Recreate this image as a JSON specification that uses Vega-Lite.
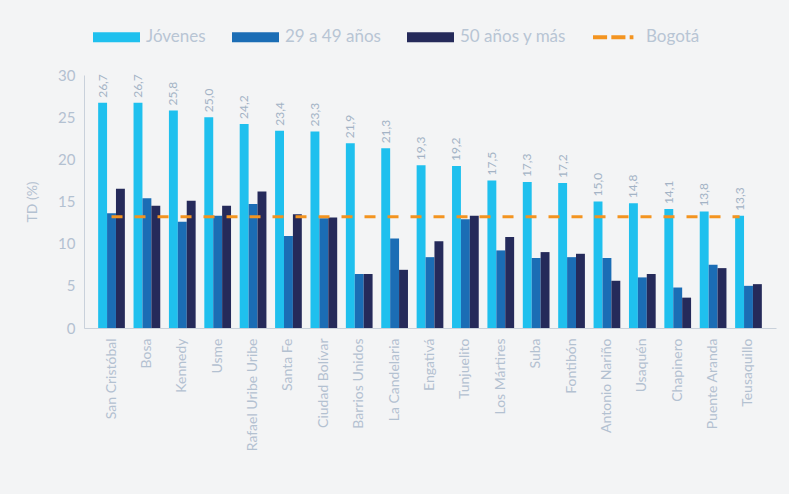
{
  "$schema": "https://vega.github.io/schema/vega-lite/v6.json",
  "width": 692,
  "height": 253,
  "autosize": {"type": "none"},
  "padding": {"left": 84, "top": 75, "right": 13, "bottom": 166},
  "background": "#f3f4f5",
  "config": {
    "view": {"stroke": null},
    "font": "Lato",
    "locale": {"number": {"decimal": ",", "thousands": ".", "grouping": [3], "currency": ["$", ""]}}
  },
  "datasets": {
    "td": [
      {"loc": "San Cristóbal", "serie": "Jóvenes", "td": 26.7},
      {"loc": "San Cristóbal", "serie": "29 a 49 años", "td": 13.6},
      {"loc": "San Cristóbal", "serie": "50 años y más", "td": 16.5},
      {"loc": "Bosa", "serie": "Jóvenes", "td": 26.7},
      {"loc": "Bosa", "serie": "29 a 49 años", "td": 15.4},
      {"loc": "Bosa", "serie": "50 años y más", "td": 14.5},
      {"loc": "Kennedy", "serie": "Jóvenes", "td": 25.8},
      {"loc": "Kennedy", "serie": "29 a 49 años", "td": 12.6},
      {"loc": "Kennedy", "serie": "50 años y más", "td": 15.1},
      {"loc": "Usme", "serie": "Jóvenes", "td": 25.0},
      {"loc": "Usme", "serie": "29 a 49 años", "td": 13.3},
      {"loc": "Usme", "serie": "50 años y más", "td": 14.5},
      {"loc": "Rafael Uribe Uribe", "serie": "Jóvenes", "td": 24.2},
      {"loc": "Rafael Uribe Uribe", "serie": "29 a 49 años", "td": 14.7},
      {"loc": "Rafael Uribe Uribe", "serie": "50 años y más", "td": 16.2},
      {"loc": "Santa Fe", "serie": "Jóvenes", "td": 23.4},
      {"loc": "Santa Fe", "serie": "29 a 49 años", "td": 10.9},
      {"loc": "Santa Fe", "serie": "50 años y más", "td": 13.5},
      {"loc": "Ciudad Bolívar", "serie": "Jóvenes", "td": 23.3},
      {"loc": "Ciudad Bolívar", "serie": "29 a 49 años", "td": 13.0},
      {"loc": "Ciudad Bolívar", "serie": "50 años y más", "td": 13.1},
      {"loc": "Barrios Unidos", "serie": "Jóvenes", "td": 21.9},
      {"loc": "Barrios Unidos", "serie": "29 a 49 años", "td": 6.4},
      {"loc": "Barrios Unidos", "serie": "50 años y más", "td": 6.4},
      {"loc": "La Candelaria", "serie": "Jóvenes", "td": 21.3},
      {"loc": "La Candelaria", "serie": "29 a 49 años", "td": 10.6},
      {"loc": "La Candelaria", "serie": "50 años y más", "td": 6.9},
      {"loc": "Engativá", "serie": "Jóvenes", "td": 19.3},
      {"loc": "Engativá", "serie": "29 a 49 años", "td": 8.4},
      {"loc": "Engativá", "serie": "50 años y más", "td": 10.3},
      {"loc": "Tunjuelito", "serie": "Jóvenes", "td": 19.2},
      {"loc": "Tunjuelito", "serie": "29 a 49 años", "td": 12.9},
      {"loc": "Tunjuelito", "serie": "50 años y más", "td": 13.3},
      {"loc": "Los Mártires", "serie": "Jóvenes", "td": 17.5},
      {"loc": "Los Mártires", "serie": "29 a 49 años", "td": 9.2},
      {"loc": "Los Mártires", "serie": "50 años y más", "td": 10.8},
      {"loc": "Suba", "serie": "Jóvenes", "td": 17.3},
      {"loc": "Suba", "serie": "29 a 49 años", "td": 8.3},
      {"loc": "Suba", "serie": "50 años y más", "td": 9.0},
      {"loc": "Fontibón", "serie": "Jóvenes", "td": 17.2},
      {"loc": "Fontibón", "serie": "29 a 49 años", "td": 8.4},
      {"loc": "Fontibón", "serie": "50 años y más", "td": 8.8},
      {"loc": "Antonio Nariño", "serie": "Jóvenes", "td": 15.0},
      {"loc": "Antonio Nariño", "serie": "29 a 49 años", "td": 8.3},
      {"loc": "Antonio Nariño", "serie": "50 años y más", "td": 5.6},
      {"loc": "Usaquén", "serie": "Jóvenes", "td": 14.8},
      {"loc": "Usaquén", "serie": "29 a 49 años", "td": 6.0},
      {"loc": "Usaquén", "serie": "50 años y más", "td": 6.4},
      {"loc": "Chapinero", "serie": "Jóvenes", "td": 14.1},
      {"loc": "Chapinero", "serie": "29 a 49 años", "td": 4.8},
      {"loc": "Chapinero", "serie": "50 años y más", "td": 3.6},
      {"loc": "Puente Aranda", "serie": "Jóvenes", "td": 13.8},
      {"loc": "Puente Aranda", "serie": "29 a 49 años", "td": 7.5},
      {"loc": "Puente Aranda", "serie": "50 años y más", "td": 7.1},
      {"loc": "Teusaquillo", "serie": "Jóvenes", "td": 13.3},
      {"loc": "Teusaquillo", "serie": "29 a 49 años", "td": 5.0},
      {"loc": "Teusaquillo", "serie": "50 años y más", "td": 5.2}
    ],
    "bogota": [
      {"loc": "San Cristóbal", "serie": "29 a 49 años", "td": 13.2},
      {"loc": "Teusaquillo", "serie": "Jóvenes", "td": 13.2}
    ]
  },
  "layer": [
    {
      "data": {"name": "td"},
      "mark": {"type": "bar"},
      "encoding": {
        "x": {
          "field": "loc", "type": "nominal", "sort": null,
          "scale": {"paddingInner": 0.245, "paddingOuter": 0.4},
          "axis": {
            "title": null, "labelAngle": -90, "ticks": false,
            "domainColor": "#c9d1db", "labelColor": "#b3c1d1",
            "labelFontSize": 14, "labelPadding": 10, "labelFontWeight": "normal"
          }
        },
        "xOffset": {"field": "serie", "type": "nominal", "scale": {"domain": ["Jóvenes", "29 a 49 años", "50 años y más"], "paddingInner": 0}},
        "y": {
          "field": "td", "type": "quantitative",
          "scale": {"domain": [0, 30]},
          "axis": {
            "title": "TD (%)", "grid": false, "ticks": false,
            "values": [0, 5, 10, 15, 20, 25, 30],
            "domainColor": "#c9d1db", "labelColor": "#b3c1d1",
            "labelFontSize": 15, "labelPadding": 9,
            "titleColor": "#b3c1d1", "titleFontSize": 14, "titleFontWeight": "normal", "titlePadding": 18
          }
        },
        "color": {
          "field": "serie", "type": "nominal",
          "scale": {
            "domain": ["Jóvenes", "29 a 49 años", "50 años y más", "Bogotá"],
            "range": ["#1fc0ee", "#1b6db5", "#252a5a", "#f39420"]
          },
          "legend": {
            "title": null, "orient": "none", "direction": "horizontal",
            "legendX": 9, "legendY": -61.5,
            "symbolSize": 2209, "labelOffset": 6, "columnPadding": 26,
            "labelFontSize": 17, "labelColor": "#b8c5d4",
            "symbolStrokeWidth": 0,
            "encode": {
              "symbols": {
                "update": {
                  "shape": {"signal": "datum.value === 'Bogotá' ? 'M-1,-0.09h0.6v0.18h-0.6z M-0.22,-0.09h0.6v0.18h-0.6z M0.56,-0.09h0.16v0.18h-0.16z' : 'M-1,-0.21h2v0.42h-2z'"},
                  "fill": {"signal": "scale('color', datum.value)"},
                  "opacity": {"value": 1}
                }
              }
            }
          }
        }
      }
    },
    {
      "data": {"name": "td"},
      "transform": [{"filter": "datum.serie === 'Jóvenes'"}],
      "mark": {"type": "text", "angle": 270, "align": "left", "baseline": "middle", "dx": 5, "fontSize": 12, "color": "#a3b3c5"},
      "encoding": {
        "x": {"field": "loc", "type": "nominal", "sort": null},
        "xOffset": {"field": "serie", "type": "nominal"},
        "y": {"field": "td", "type": "quantitative"},
        "text": {"field": "td", "type": "quantitative", "format": ".1f"}
      }
    },
    {
      "data": {"name": "bogota"},
      "mark": {"type": "line", "strokeDash": [11, 12], "strokeWidth": 3, "color": "#f39420"},
      "encoding": {
        "x": {"field": "loc", "type": "nominal", "sort": null},
        "xOffset": {"field": "serie", "type": "nominal"},
        "y": {"field": "td", "type": "quantitative"}
      }
    }
  ]
}
